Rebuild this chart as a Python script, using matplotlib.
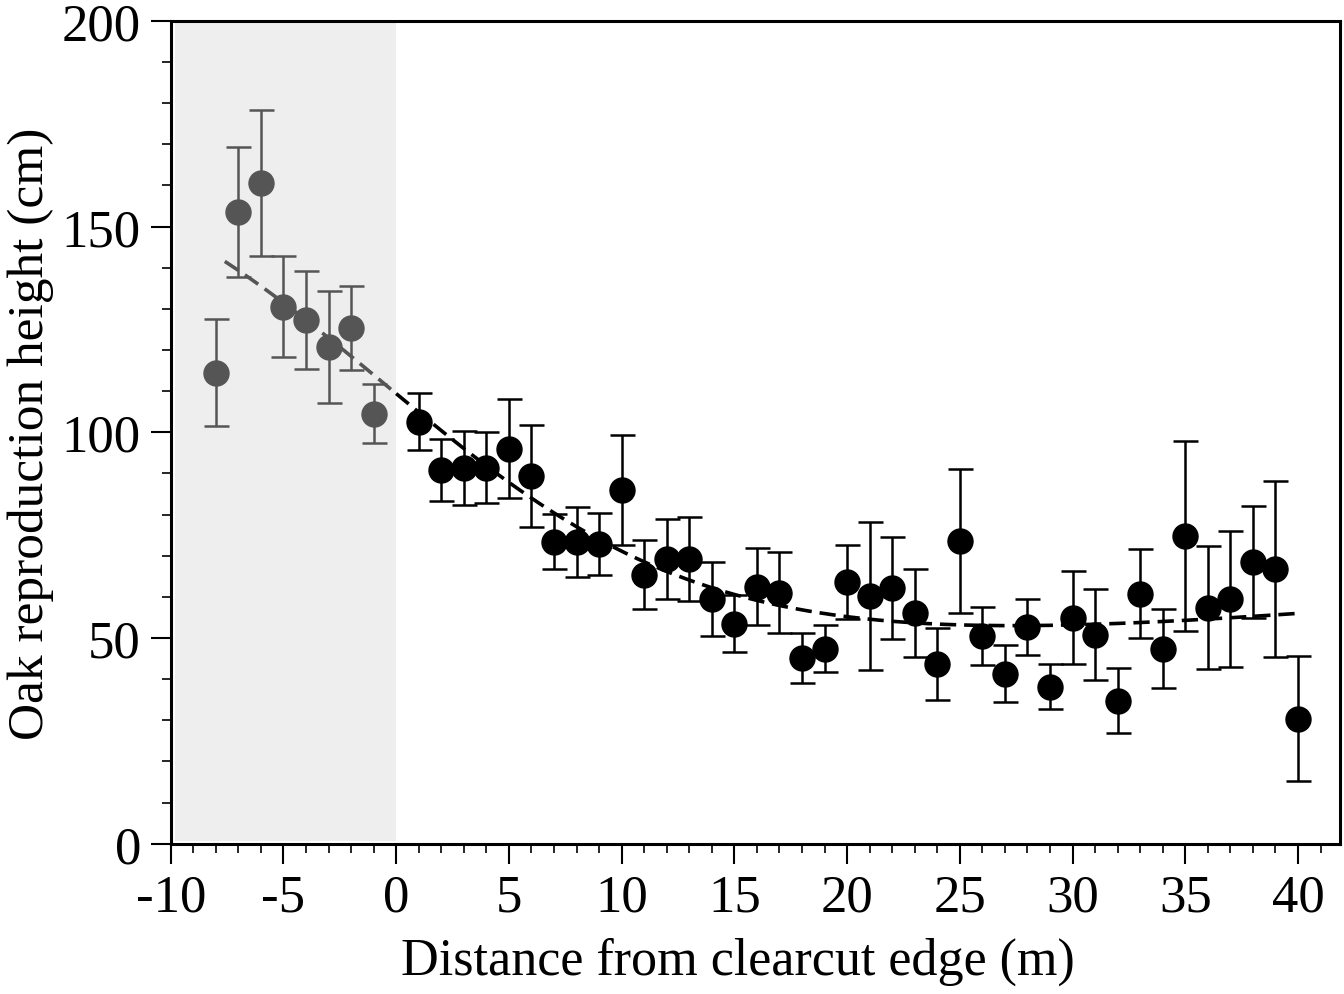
import matplotlib.pyplot as plt
import numpy as np

plt.rcParams['font.family'] = ['Liberation Serif', 'DejaVu Serif']
plt.rcParams['axes.unicode_minus'] = False

# forest side of the edge (negative distances)
forest_x = np.array([-8, -7, -6, -5, -4, -3, -2, -1])
forest_h = np.array([114.5, 153.6, 160.6, 130.5, 127.3, 120.8, 125.4, 104.5])
forest_err = np.array([13.0, 15.8, 17.8, 12.3, 11.8, 13.6, 10.2, 7.2])

# clearcut side
cut_x = np.arange(1, 41)
cut_h = np.array([102.6, 90.9, 91.4, 91.4, 96.0, 89.4, 73.4, 73.4, 72.9, 86.0,
                  65.4, 69.3, 69.3, 59.5, 53.5, 62.5, 61.0, 45.2, 47.4, 63.7,
                  60.3, 62.2, 56.1, 43.7, 73.6, 50.5, 41.3, 52.7, 38.2, 54.9,
                  50.8, 34.8, 60.8, 47.4, 74.8, 57.4, 59.5, 68.5, 66.8, 30.4])
cut_err = np.array([7.0, 7.5, 9.0, 8.6, 12.0, 12.3, 6.7, 8.5, 7.6, 13.3,
                    8.4, 9.7, 10.2, 9.0, 7.0, 9.4, 9.8, 6.1, 5.7, 9.0,
                    18.0, 12.4, 10.6, 8.8, 17.6, 7.0, 6.9, 6.8, 5.5, 11.3,
                    11.0, 7.9, 10.8, 9.6, 23.0, 15.0, 16.6, 13.7, 21.3, 15.2])

gray = '#555555'


def sigmoid_fit(x, y):
    # y = a + b / (1 + exp((x - x0) / s)) + c * x, grid search over x0 and s
    best = None
    for x0 in np.arange(-10, 20, 0.25):
        for s in np.arange(1, 20, 0.25):
            A = np.column_stack([np.ones(len(x)), 1 / (1 + np.exp((x - x0) / s)), x])
            p, *_ = np.linalg.lstsq(A, y, rcond=None)
            sse = np.sum((A @ p - y) ** 2)
            if best is None or sse < best[0]:
                best = (sse, x0, s, p)
    _, x0, s, p = best
    return lambda t: p[0] + p[1] / (1 + np.exp((t - x0) / s)) + p[2] * t


fit = sigmoid_fit(np.concatenate([forest_x, cut_x]), np.concatenate([forest_h, cut_h]))

fig, ax = plt.subplots(figsize=(13.44, 9.95), dpi=100)
fig.subplots_adjust(left=0.127, right=0.997, top=0.978, bottom=0.151)

ax.axvspan(-9.8, 0, ymin=0.003, ymax=0.997, color='#eeeeee', lw=0, zorder=0)

xf1 = np.linspace(-7.6, 0, 60)
xf2 = np.linspace(0, 40, 300)
ax.plot(xf1, fit(xf1), color=gray, ls=(0, (4.5, 2.2)), lw=2.6, zorder=2)
ax.plot(xf2, fit(xf2), color='black', ls=(0, (4.5, 2.2)), lw=2.6, zorder=2)

ax.errorbar(forest_x, forest_h, yerr=forest_err, fmt='o', color=gray, ms=18,
            elinewidth=1.8, capsize=9, capthick=1.8, zorder=3)
ax.errorbar(cut_x, cut_h, yerr=cut_err, fmt='o', color='black', ms=18,
            elinewidth=1.8, capsize=9, capthick=1.8, zorder=3)

ax.set_xlim(-10, 41.86)
ax.set_ylim(0, 200)
ax.set_xticks(np.arange(-10, 41, 5))
ax.set_xticks(np.arange(-10, 42, 1), minor=True)
ax.set_yticks(np.arange(0, 201, 50))
ax.set_yticks(np.arange(0, 201, 10), minor=True)
ax.tick_params(which='major', length=14.4, width=1.5, labelsize=38, pad=7, direction='out')
ax.tick_params(which='minor', length=6.5, width=1.2, direction='out')
for s in ax.spines.values():
    s.set_linewidth(2.2)

ax.set_xlabel('Distance from clearcut edge (m)', fontsize=37.5)
ax.xaxis.set_label_coords(0.485, -0.113)
ax.set_ylabel('Oak reproduction height (cm)', fontsize=37, labelpad=6)

fig.savefig('out.png')
